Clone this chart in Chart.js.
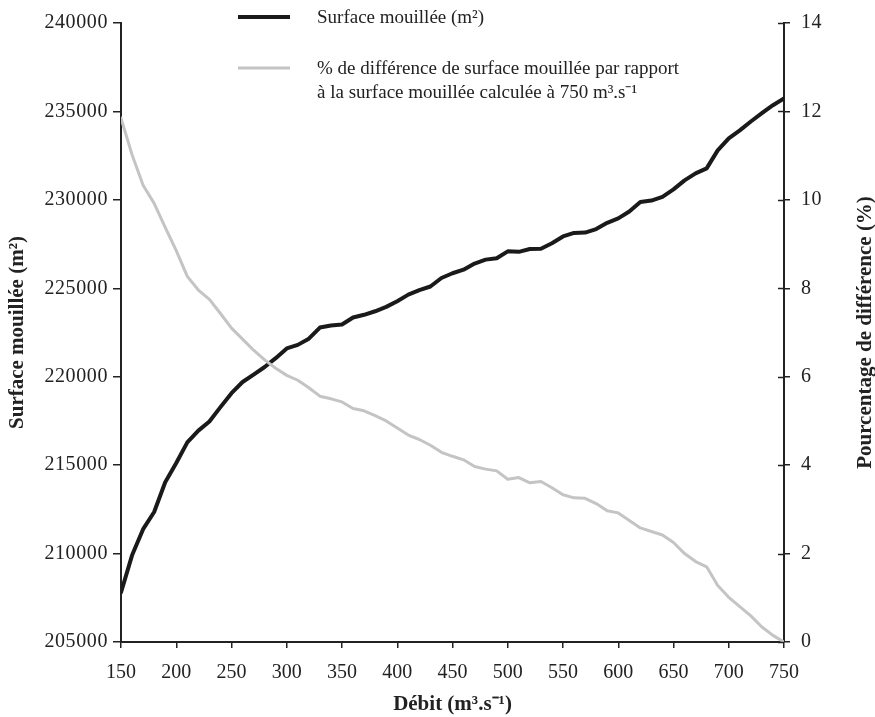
<!DOCTYPE html>
<html>
<head>
<meta charset="utf-8">
<script src="https://cdn.jsdelivr.net/npm/chart.js@4/dist/chart.umd.min.js"></script>
<style>
html,body{margin:0;padding:0;background:#fff;}
#wrap{width:875px;height:717px;}
</style>
</head>
<body>
<div id="wrap"><canvas id="c" width="875" height="717"></canvas></div>
<script>
// ---- data ----
const discharge = [150,160,170,180,190,200,210,220,230,240,250,260,270,280,290,300,310,320,330,340,350,360,370,380,390,400,410,420,430,440,450,460,470,480,490,500,510,520,530,540,550,560,570,580,590,600,610,620,630,640,650,660,670,680,690,700,710,720,730,740,750];
const wettedArea = [207800,209900,211380,212350,214030,215120,216290,216950,217470,218280,219070,219700,220120,220550,221050,221600,221800,222150,222780,222900,222950,223350,223500,223700,223950,224270,224640,224900,225100,225580,225850,226050,226400,226620,226700,227090,227060,227220,227240,227550,227930,228130,228150,228350,228700,228950,229340,229880,229960,230170,230590,231100,231500,231780,232800,233480,233930,234430,234900,235350,235740];
const pctDifference = [11.85,11.02,10.33,9.92,9.38,8.85,8.27,7.96,7.75,7.43,7.10,6.85,6.60,6.38,6.19,6.03,5.92,5.75,5.56,5.50,5.43,5.28,5.23,5.12,5.00,4.84,4.68,4.58,4.45,4.29,4.20,4.12,3.97,3.91,3.87,3.68,3.72,3.60,3.63,3.49,3.33,3.26,3.25,3.13,2.97,2.92,2.75,2.58,2.50,2.42,2.25,2.00,1.82,1.70,1.28,1.01,0.80,0.59,0.34,0.15,0.00];

const xTitle = 'Débit (m³.s⁻¹)';
const leftTitle = 'Surface mouillée (m²)';
const rightTitle = 'Pourcentage de différence (%)';
const seriesLabels = [['Surface mouillée (m²)'], ['% de différence de surface mouillée par rapport', 'à la surface mouillée calculée à 750 m³.s⁻¹']];

const FONT = "'Liberation Serif', 'Times New Roman', serif";
const INK = '#222222';

const toPoints = (xs, ys) => xs.map((x, i) => ({x: x, y: ys[i]}));

const spacingPlugin = {
  id: 'spacing',
  afterLayout(chart) {
    [['y', '0.6px'], ['y1', '0.6px']].forEach(([id, sp]) => {
      const s = chart.scales[id];
      if (s && !s._spPatched) {
        const orig = s.drawLabels.bind(s);
        s.drawLabels = function (area) {
          const ctx = this.ctx;
          ctx.save();
          try { ctx.letterSpacing = sp; } catch (e) {}
          orig(area);
          ctx.restore();
        };
        s._spPatched = true;
      }
    });
  }
};

const extrasPlugin = {
  id: 'extras',
  afterDraw(chart) {
    const ctx = chart.ctx;
    const s = chart.scales.y1;
    // inner half of the right-axis ticks
    ctx.save();
    ctx.strokeStyle = INK;
    ctx.lineWidth = 1.5;
    ctx.beginPath();
    s.ticks.forEach(t => {
      const y = Math.round(s.getPixelForValue(t.value)) + 0.5;
      ctx.moveTo(s.left - 6, y);
      ctx.lineTo(s.left, y);
    });
    ctx.stroke();
    // right title, reading bottom to top
    ctx.fillStyle = INK;
    ctx.font = "bold 21px " + FONT;
    ctx.textAlign = 'center';
    ctx.textBaseline = 'middle';
    ctx.translate(866, (chart.chartArea.top + chart.chartArea.bottom) / 2);
    ctx.rotate(-Math.PI / 2);
    ctx.fillText(rightTitle, 0, 0);
    ctx.restore();

    // legend
    ctx.save();
    const ds = chart.data.datasets;
    const rows = [{y: 17, w: 4}, {y: 68, w: 3}];
    ds.forEach((d, i) => {
      const r = rows[i];
      ctx.strokeStyle = d.borderColor;
      ctx.lineWidth = r.w;
      ctx.beginPath();
      ctx.moveTo(238, r.y);
      ctx.lineTo(290, r.y);
      ctx.stroke();
      ctx.fillStyle = INK;
      ctx.font = "19px " + FONT;
      ctx.textAlign = 'left';
      ctx.textBaseline = 'middle';
      d.label.forEach((line, k) => ctx.fillText(line, 317, r.y + 1 + k * 24));
    });
    ctx.restore();
  }
};

new Chart(document.getElementById('c'), {
  type: 'line',
  data: {
    datasets: [
      {
        label: seriesLabels[0],
        data: toPoints(discharge, wettedArea),
        yAxisID: 'y',
        borderColor: '#1a1a1a',
        borderWidth: 4,
        pointRadius: 0,
        tension: 0,
        borderJoinStyle: 'round',
        borderCapStyle: 'round',
        order: 2
      },
      {
        label: seriesLabels[1],
        data: toPoints(discharge, pctDifference),
        yAxisID: 'y1',
        borderColor: '#c4c4c4',
        borderWidth: 3,
        pointRadius: 0,
        tension: 0,
        borderJoinStyle: 'round',
        borderCapStyle: 'round',
        order: 1
      }
    ]
  },
  options: {
    responsive: false,
    animation: false,
    devicePixelRatio: 1,
    layout: {padding: {top: 20, left: 0, right: 0, bottom: 0}},
    plugins: {legend: {display: false}, tooltip: {enabled: false}},
    scales: {
      x: {
        type: 'linear',
        min: 150, max: 750,
        ticks: {stepSize: 50, color: INK, font: {family: FONT, size: 20}, padding: 13, maxRotation: 0, autoSkip: false},
        grid: {drawOnChartArea: false, drawTicks: true, tickLength: 6, color: INK, lineWidth: 1.5},
        border: {color: INK, width: 2},
        title: {display: true, text: xTitle, color: INK, font: {family: FONT, size: 21, weight: 'bold'}, padding: {top: 0, bottom: 0}},
        afterFit(scale) { scale.height = 75; }
      },
      y: {
        position: 'left',
        min: 205000, max: 240000,
        ticks: {stepSize: 5000, color: INK, font: {family: FONT, size: 20}, padding: 5, callback: v => String(v)},
        grid: {drawOnChartArea: false, drawTicks: true, tickLength: 8, color: INK, lineWidth: 1.5},
        border: {color: INK, width: 2},
        title: {display: true, text: leftTitle, color: INK, font: {family: FONT, size: 21, weight: 'bold'}, padding: {top: 5, bottom: 0}},
        afterFit(scale) { scale.width = 121; }
      },
      y1: {
        position: 'right',
        min: 0, max: 14,
        ticks: {stepSize: 2, color: INK, font: {family: FONT, size: 20}, padding: 11, callback: v => String(v)},
        grid: {drawOnChartArea: false, drawTicks: true, tickLength: 6, color: INK, lineWidth: 1.5},
        border: {color: INK, width: 2},
        title: {display: false},
        afterFit(scale) { scale.width = 91; }
      }
    }
  },
  plugins: [spacingPlugin, extrasPlugin]
});
</script>
</body>
</html>
